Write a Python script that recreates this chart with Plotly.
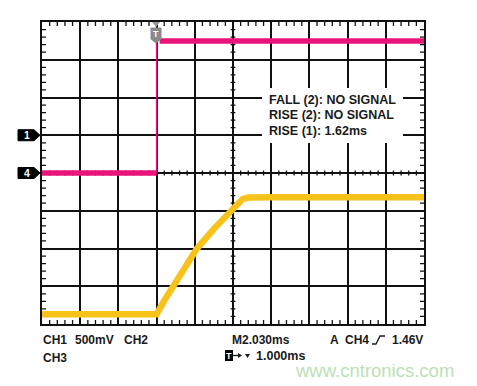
import plotly.graph_objects as go

# ---- data (divisions: x 0..10, y 0..8) ----
ch4_step_time = 3.0
ch4_low = 4.0
ch4_high = 7.5
ch1_time = [0, 3.0, 3.2, 3.4, 3.7, 4.05, 4.5, 4.92, 5.05, 5.15, 5.25, 5.4, 6.0, 10.0]
ch1_level = [0.26, 0.26, 0.62, 0.96, 1.47, 1.99, 2.52, 2.97, 3.13, 3.24, 3.31, 3.35, 3.36, 3.36]
meas_lines = ["FALL (2): NO SIGNAL", "RISE (2): NO SIGNAL", "RISE (1): 1.62ms"]

PINK = "#e8147a"
YELLOW = "#f7c21a"
FONT = "Liberation Sans, Arial, sans-serif"
TXT = "#1a1a1a"

# page coordinates of plot area (page has an 8px body offset)
OFF = 8
L, R, T, B = 42, 424, 22, 324
W, H = 477 - OFF, 386 - OFF


def px(x):
    return (x - L) / (R - L)


def py(y):
    return (B - y) / (B - T)


fig = go.Figure()

# CH4 (pink) horizontal parts thick, vertical edge thin
fig.add_trace(go.Scatter(x=[0, ch4_step_time, None, ch4_step_time + 0.08, 10],
                         y=[ch4_low, ch4_low, None, ch4_high, ch4_high],
                         mode="lines", line=dict(color=PINK, width=5.5),
                         hoverinfo="skip", showlegend=False))
fig.add_trace(go.Scatter(x=[ch4_step_time, ch4_step_time],
                         y=[ch4_low, ch4_high],
                         mode="lines", line=dict(color=PINK, width=1.5),
                         hoverinfo="skip", showlegend=False))
# CH1 (yellow)
fig.add_trace(go.Scatter(x=ch1_time, y=ch1_level, mode="lines",
                         line=dict(color=YELLOW, width=6.5),
                         hoverinfo="skip", showlegend=False))

shapes = []
# minor ticks on borders and centre lines
tx = 4 / 38.2
ty = 4 / 37.75
parts = []
for i in range(51):
    x = round(i * 0.2, 3)
    if i % 5 == 0:
        continue
    parts.append(f"M{x},0 L{x},{ty}")
    parts.append(f"M{x},8 L{x},{8-ty}")
    parts.append(f"M{x},{4-ty*0.6} L{x},{4+ty*0.6}")
for j in range(41):
    y = round(j * 0.2, 3)
    if j % 5 == 0:
        continue
    parts.append(f"M0,{y} L{tx},{y}")
    parts.append(f"M10,{y} L{10-tx},{y}")
    parts.append(f"M{5-tx*0.6},{y} L{5+tx*0.6},{y}")
shapes.append(dict(type="path", xref="x", yref="y", path=" ".join(parts),
                   line=dict(color="#111", width=1.3), layer="below"))

# measurement box (white background)
shapes.append(dict(type="rect", xref="paper", yref="paper",
                   x0=px(262), x1=px(403), y0=py(143), y1=py(88),
                   fillcolor="white", line=dict(width=0), layer="above"))

ann = []


def marker(yc, label):
    h = 5.5 / 37.75
    x0, x1, x2 = px(18), px(34), px(40)
    shapes.append(dict(type="path", xref="paper", yref="y",
                       path=f"M{x0},{yc-h} L{x1},{yc-h} L{x2},{yc} L{x1},{yc+h} L{x0},{yc+h} Z",
                       fillcolor="black", line=dict(color="black", width=1)))
    ann.append(dict(xref="paper", yref="y", x=px(26.5), y=yc, text=f"<b>{label}</b>",
                    showarrow=False, font=dict(color="white", size=10.5, family=FONT),
                    xanchor="center", yanchor="middle"))


marker(5.0, "1")
marker(4.0, "4")

# trigger marker at top
x0, x1 = px(151), px(161)
xc = px(156)
shapes.append(dict(type="path", xref="paper", yref="paper",
                   path=f"M{px(152)},{py(22)} L{px(160)},{py(22)} L{xc},{py(27)} Z",
                   fillcolor="#999", line=dict(width=0)))
shapes.append(dict(type="path", xref="paper", yref="paper",
                   path=f"M{x0},{py(28)} L{x1},{py(28)} L{x1},{py(39)} L{xc},{py(43)} L{x0},{py(39)} Z",
                   fillcolor="#8a8a8a", line=dict(color="#8a8a8a", width=1)))
ann.append(dict(xref="paper", yref="paper", x=xc, y=py(34), text="<b>T</b>",
                showarrow=False, font=dict(color="white", size=9, family=FONT),
                xanchor="center", yanchor="middle"))


def txt(x, y, t, size=12, color=TXT, anchor="left", bold=True):
    ann.append(dict(xref="paper", yref="paper", x=px(x), y=py(y),
                    text=f"<b>{t}</b>" if bold else t,
                    showarrow=False, xanchor=anchor, yanchor="middle",
                    font=dict(color=color, size=size, family=FONT)))


# measurement text
for k, t in enumerate(meas_lines):
    txt(267, 100 + 15.5 * k, t, size=12.5)

# bottom status text
txt(41, 340, "CH1")
txt(73, 340, "500mV")
txt(122, 340, "CH2")
txt(41, 358, "CH3")
txt(230, 340, "M2.030ms")
txt(328, 340, "A")
txt(343, 340, "CH4")
txt(425, 340, "1.46V", anchor="right")
# rising-edge symbol
shapes.append(dict(type="path", xref="paper", yref="paper",
                   path=f"M{px(372)},{py(344)} L{px(376)},{py(344)} L{px(380)},{py(336)} L{px(385)},{py(336)}",
                   line=dict(color=TXT, width=1.3)))
# T box + arrow + small triangle
shapes.append(dict(type="rect", xref="paper", yref="paper",
                   x0=px(225), x1=px(233), y0=py(361), y1=py(350),
                   fillcolor="black", line=dict(width=0)))
ann.append(dict(xref="paper", yref="paper", x=px(229), y=py(355.5), text="<b>T</b>",
                showarrow=False, font=dict(color="white", size=9, family=FONT),
                xanchor="center", yanchor="middle"))
shapes.append(dict(type="path", xref="paper", yref="paper",
                   path=f"M{px(233)},{py(355.5)} L{px(239)},{py(355.5)}",
                   line=dict(color=TXT, width=1.3)))
shapes.append(dict(type="path", xref="paper", yref="paper",
                   path=f"M{px(238)},{py(353)} L{px(242)},{py(355.5)} L{px(238)},{py(358)} Z",
                   fillcolor=TXT, line=dict(width=0)))
shapes.append(dict(type="path", xref="paper", yref="paper",
                   path=f"M{px(245)},{py(354)} L{px(250)},{py(354)} L{px(247.5)},{py(358)} Z",
                   fillcolor=TXT, line=dict(width=0)))
txt(254, 356, "1.000ms", size=12.5)
txt(293, 370, "www.cntronics.com", size=18.5, color="#bcdfb7", bold=False)

axis = dict(range=[0, 10], showticklabels=False, ticks="", showgrid=True,
            gridcolor="#111", gridwidth=1.6, dtick=1, tick0=0, zeroline=False,
            showline=True, mirror=True, linecolor="#111", linewidth=2,
            fixedrange=True)
yaxis = dict(axis)
yaxis["range"] = [0, 8]

fig.update_layout(width=W, height=H,
                  margin=dict(l=L - OFF, r=W - (R - OFF), t=T - OFF, b=H - (B - OFF)),
                  paper_bgcolor="white", plot_bgcolor="white",
                  xaxis=axis, yaxis=yaxis, shapes=shapes, annotations=ann,
                  showlegend=False)
fig.write_html("out.html")
